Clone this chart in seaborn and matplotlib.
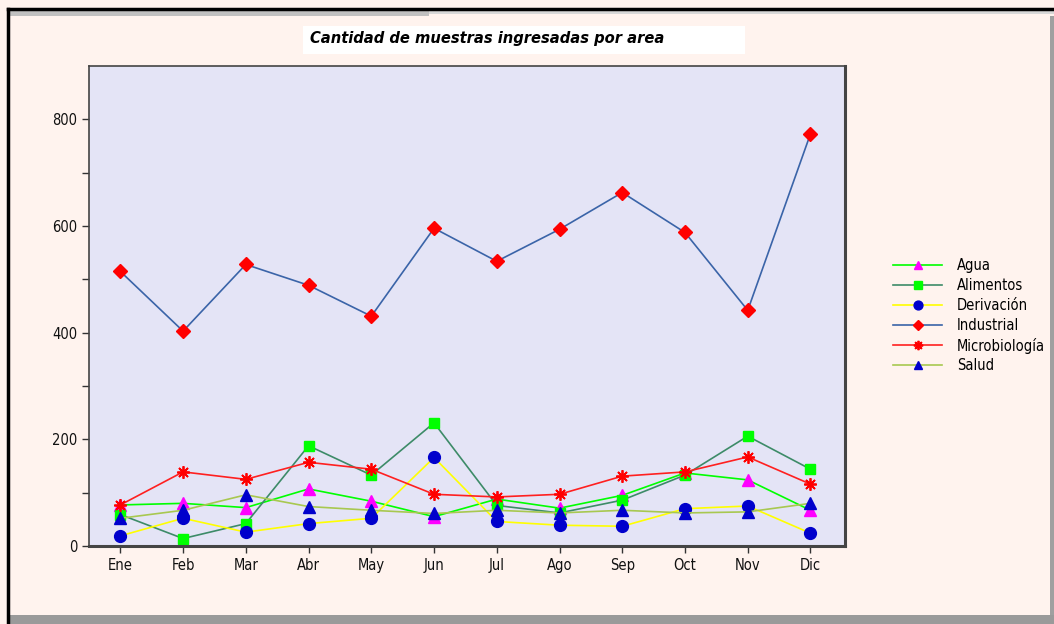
import matplotlib
matplotlib.use('Agg')
import matplotlib.pyplot as plt
import seaborn as sns
import pandas as pd
from matplotlib.patches import Rectangle
from matplotlib.lines import Line2D

# Data
meses = ['Ene', 'Feb', 'Mar', 'Abr', 'May', 'Jun', 'Jul', 'Ago', 'Sep', 'Oct', 'Nov', 'Dic']
agua = [77, 80, 72, 107, 84, 55, 88, 71, 95, 137, 124, 67]
alimentos = [59, 14, 42, 188, 133, 231, 76, 62, 86, 133, 206, 144]
derivacion = [19, 52, 26, 42, 52, 166, 46, 39, 37, 70, 75, 24]
industrial = [515, 403, 528, 489, 431, 596, 534, 594, 663, 588, 442, 773]
microbiologia = [77, 139, 125, 157, 144, 97, 92, 97, 131, 139, 167, 116]
salud = [52, 67, 96, 74, 67, 61, 67, 62, 67, 62, 64, 80]

series = ['Agua', 'Alimentos', 'Derivación', 'Industrial', 'Microbiología', 'Salud']
valores = [agua, alimentos, derivacion, industrial, microbiologia, salud]

# line colour, marker, marker colour, marker size
estilos = {
    'Agua': ('#00ff00', '^', '#ff00ff', 8),
    'Alimentos': ('#3d8b68', 's', '#00ff00', 7.5),
    'Derivación': ('#ffff00', 'o', '#0000cc', 8.5),
    'Industrial': ('#3a64a8', 'D', '#ff0000', 7),
    'Microbiología': ('#ff2020', (8, 2, 0), '#ff0000', 9),
    'Salud': ('#a8c850', '^', '#0000cc', 8),
}

df = pd.DataFrame({'Mes': meses * len(series),
                   'Area': [s for s in series for _ in meses],
                   'Cantidad': [v for vals in valores for v in vals]})
df['x'] = df.groupby('Area').cumcount()

plt.rcParams['font.family'] = ['DejaVu Sans']
plt.rcParams['font.stretch'] = 'condensed'

fig = plt.figure(figsize=(10.54, 6.24), dpi=100, facecolor='#fff3ee')
ax = fig.add_axes([0.0844, 0.125, 0.7173, 0.769])
ax.set_facecolor('#e4e4f6')

for s in series:
    lc, mk, mc, ms = estilos[s]
    sns.lineplot(data=df[df['Area'] == s], x='x', y='Cantidad', ax=ax,
                 color=lc, marker=mk, markerfacecolor=mc, markeredgecolor=mc,
                 markersize=ms, markeredgewidth=1.3 if s == 'Microbiología' else 1,
                 linewidth=1.2, label=s)

ax.set_xlim(-0.5, 11.55)
ax.set_ylim(0, 900)
ax.set_xticks(range(len(meses)))
ax.set_xticklabels(meses)
ax.set_yticks([0, 200, 400, 600, 800])
ax.set_yticks([100, 300, 500, 700], minor=True)
ax.set_xlabel('')
ax.set_ylabel('')
ax.tick_params(axis='both', direction='out', length=5, width=1, color='#333333',
               labelsize=10.5, labelcolor='#111111')
ax.tick_params(axis='y', which='minor', direction='out', length=5, width=1, color='#333333')
for side in ['top', 'left']:
    ax.spines[side].set_color('#444444')
    ax.spines[side].set_linewidth(1.2)
for side in ['right', 'bottom']:
    ax.spines[side].set_color('#444444')
    ax.spines[side].set_linewidth(2.2)

leg = ax.legend(loc='upper left', bbox_to_anchor=(1.046, 0.627), frameon=False,
                fontsize=10.5, handlelength=3.4, handletextpad=1.0, labelspacing=0.33,
                markerscale=0.75)

# title in white box
fig.add_artist(Rectangle((303 / 1054, 1 - 54 / 624), 442 / 1054, 28 / 624,
                         transform=fig.transFigure, facecolor='white', edgecolor='none'))
fig.text(310 / 1054, 1 - 38 / 624, 'Cantidad de muestras ingresadas por area',
         fontsize=11.8, fontweight='bold', fontstyle='italic', va='center', ha='left')

# window frame
fig.add_artist(Line2D([8 / 1054, 8 / 1054], [0, 1 - 9 / 624], transform=fig.transFigure,
                      color='black', linewidth=2.5))
fig.add_artist(Line2D([8 / 1054, 1], [1 - 9 / 624, 1 - 9 / 624], transform=fig.transFigure,
                      color='black', linewidth=2.5))
fig.add_artist(Rectangle((9 / 1054, 1 - 16 / 624), 420 / 1054, 5 / 624,
                         transform=fig.transFigure, facecolor='#c0c0c0', edgecolor='none'))
fig.add_artist(Rectangle((429 / 1054, 1 - 14 / 624), 625 / 1054, 3 / 624,
                         transform=fig.transFigure, facecolor='#d8d8d8', edgecolor='none'))
fig.add_artist(Rectangle((1050 / 1054, 0), 4 / 1054, 1 - 16 / 624,
                         transform=fig.transFigure, facecolor='#a0a0a0', edgecolor='none'))
fig.add_artist(Rectangle((9 / 1054, 0), 1, 9 / 624,
                         transform=fig.transFigure, facecolor='#9a9a9a', edgecolor='none'))

fig.savefig('out.png', dpi=100, facecolor=fig.get_facecolor())
